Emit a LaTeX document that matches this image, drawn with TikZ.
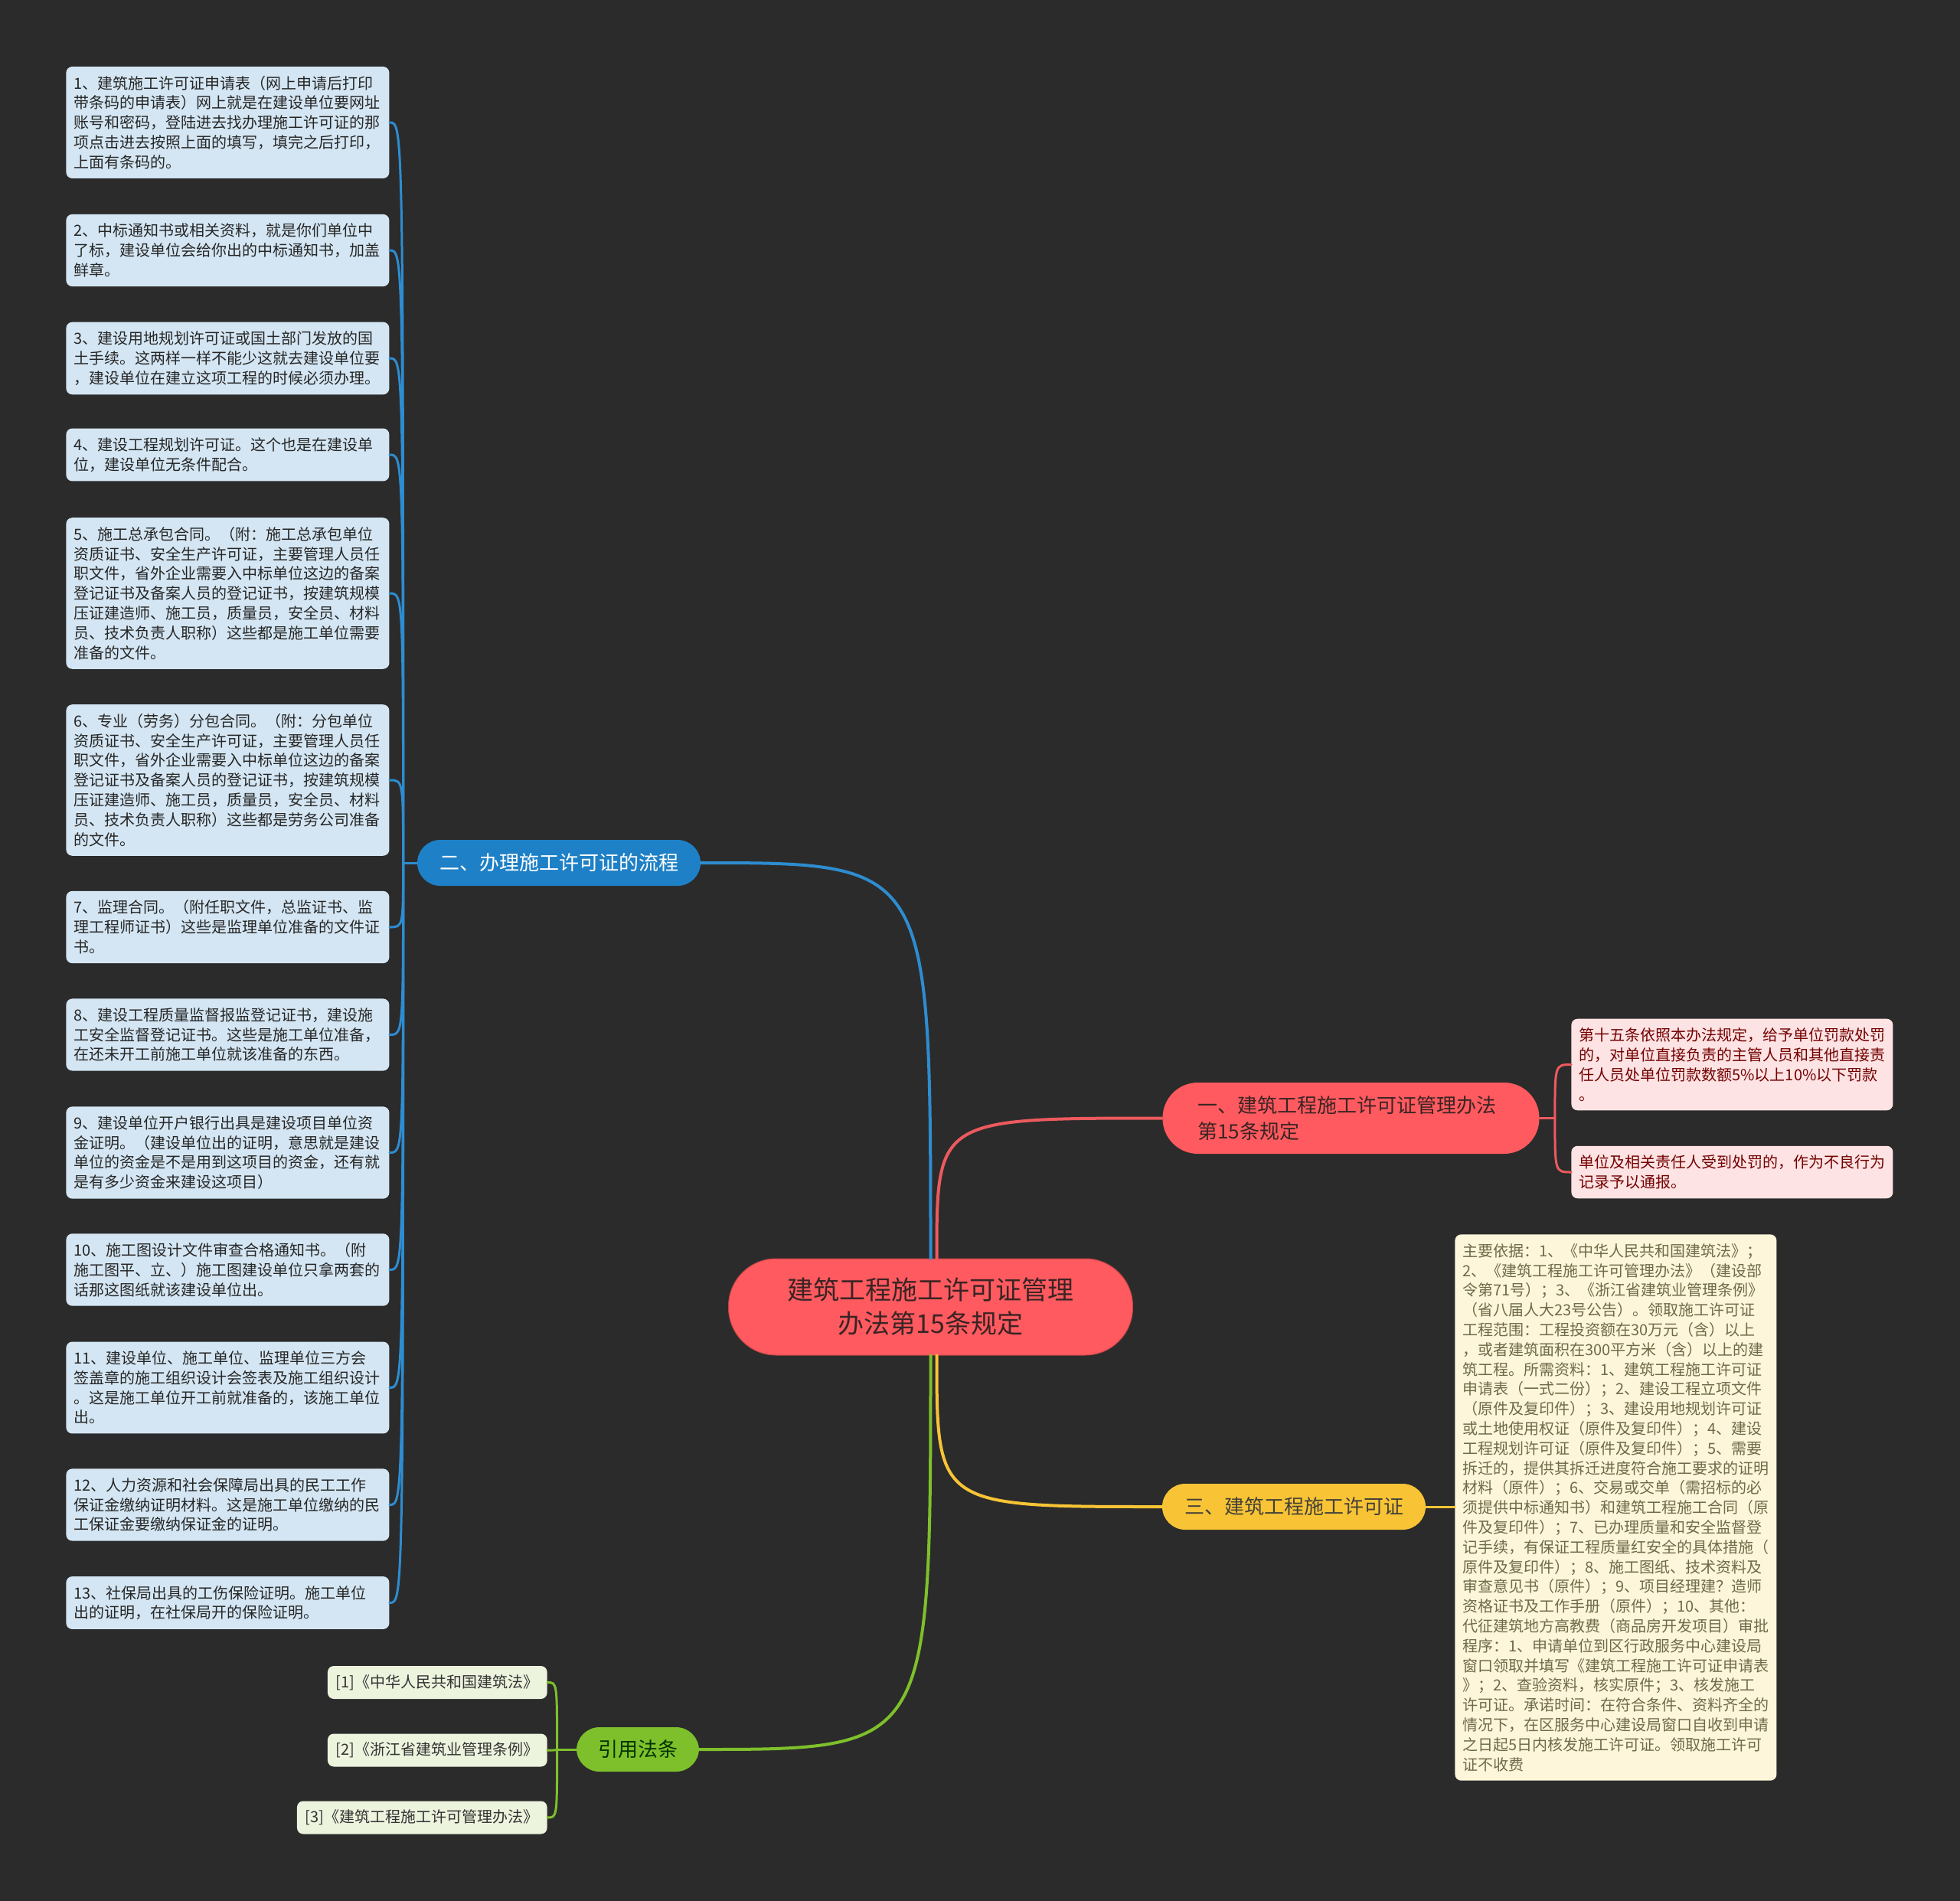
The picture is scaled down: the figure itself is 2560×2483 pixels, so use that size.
\documentclass[tikz,border=0pt]{standalone}
\usepackage{fontspec}
\setmainfont{Noto Sans CJK SC}
\usepackage{xcolor}
\definecolor{mapbg}{HTML}{2B2B2B}
\definecolor{mapred}{HTML}{FF5A5F}
\definecolor{mapredtxt}{HTML}{3A2424}
\definecolor{mapblue}{HTML}{1E80C6}
\definecolor{mapyellow}{HTML}{F8C436}
\definecolor{mapgreen}{HTML}{7EC02B}
\definecolor{twigblue}{HTML}{2E8CD0}
\definecolor{twigred}{HTML}{EC5A5E}
\definecolor{leafblue}{HTML}{D4E6F3}
\definecolor{leafpink}{HTML}{FDE3E3}
\definecolor{leafcream}{HTML}{FDF6DA}
\definecolor{leafgreen}{HTML}{EDF4DE}
\usepackage{tikz}
\usetikzlibrary{calc}

\begin{document}
\begin{tikzpicture}[
  x=0.5pt, y=-0.5pt,
  root/.style={rectangle, rounded corners=31pt, fill=mapred, draw=mapred!75!black, line width=0.5pt,
               minimum width=264pt, minimum height=63pt, inner sep=0pt, align=center,
               font=\fontsize{17}{22}\selectfont, text=mapredtxt},
  topic/.style={rectangle, rounded corners=15pt, minimum height=30pt, inner sep=0pt,
                font=\fontsize{13}{17}\selectfont},
  leaf/.style={rectangle, rounded corners=4pt, text width=201pt, align=left,
               inner xsep=5pt, inner ysep=6pt, font=\fontsize{10}{12.9}\selectfont},
  cite/.style={rectangle, rounded corners=4pt, fill=leafgreen, text=black!80,
               inner xsep=5.5pt, minimum height=21.5pt, font=\fontsize{10}{12.9}\selectfont},
  link/.style={line width=2pt, line cap=round},
  twig/.style={line width=1.5pt, line cap=round},
]
\fill[mapbg] (0,0) rectangle (2560,2483);
\useasboundingbox (0,0) rectangle (2560,2483);

% ---------- centre and the four branches
\node[root] (c) at (1215.5,1707) {建筑工程施工许可证管理\\办法第15条规定};
\node[topic, fill=mapblue, text=white, minimum width=185pt] (b2) at (730,1127) {二、办理施工许可证的流程};
\node[topic, fill=mapred, text=mapredtxt, rounded corners=23pt, minimum height=46.5pt,
      text width=200pt, inner xsep=23pt, align=left] (b1) at (1764.5,1460.5)
  {一、建筑工程施工许可证管理办法\\第15条规定};
\node[topic, fill=mapyellow, text=black!85!yellow, minimum width=172pt] (b3) at (1690,1968) {三、建筑工程施工许可证};
\node[topic, fill=mapgreen, text=black!80!green, minimum width=80pt, minimum height=29pt] (b4) at (833,2285) {引用法条};

\coordinate (up1) at ([xshift=4pt]c.north);
\coordinate (dn3) at ([xshift=4pt]c.south);
\draw[link, draw=twigblue] (c.north) .. controls (c.north |- b2.east) .. (b2.east);
\draw[link, draw=twigred] (up1) .. controls (up1 |- b1.west) .. (b1.west);
\draw[link, draw=mapyellow] (dn3) .. controls (dn3 |- b3.west) .. (b3.west);
\draw[link, draw=mapgreen] (c.south) .. controls (c.south |- b4.east) .. (b4.east);

% ---------- the thirteen steps, left of the blue branch
\coordinate (s0) at ([xshift=-9pt]b2.west);
\draw[twig, draw=twigblue] (b2.west) -- (s0);
\foreach \k/\y/\t in {
  1/160/{1、建筑施工许可证申请表（网上申请后打印\\带条码的申请表）网上就是在建设单位要网址\\账号和密码，登陆进去找办理施工许可证的那\\项点击进去按照上面的填写，填完之后打印，\\上面有条码的。},
  2/327/{2、中标通知书或相关资料，就是你们单位中\\了标，建设单位会给你出的中标通知书，加盖\\鲜章。},
  3/468/{3、建设用地规划许可证或国土部门发放的国\\土手续。这两样一样不能少这就去建设单位要\\，建设单位在建立这项工程的时候必须办理。},
  4/594/{4、建设工程规划许可证。这个也是在建设单\\位，建设单位无条件配合。},
  5/775/{5、施工总承包合同。（附：施工总承包单位\\资质证书、安全生产许可证，主要管理人员任\\职文件，省外企业需要入中标单位这边的备案\\登记证书及备案人员的登记证书，按建筑规模\\压证建造师、施工员，质量员，安全员、材料\\员、技术负责人职称）这些都是施工单位需要\\准备的文件。},
  6/1019/{6、专业（劳务）分包合同。（附：分包单位\\资质证书、安全生产许可证，主要管理人员任\\职文件，省外企业需要入中标单位这边的备案\\登记证书及备案人员的登记证书，按建筑规模\\压证建造师、施工员，质量员，安全员、材料\\员、技术负责人职称）这些都是劳务公司准备\\的文件。},
  7/1211/{7、监理合同。（附任职文件，总监证书、监\\理工程师证书）这些是监理单位准备的文件证\\书。},
  8/1351.5/{8、建设工程质量监督报监登记证书，建设施\\工安全监督登记证书。这些是施工单位准备，\\在还未开工前施工单位就该准备的东西。},
  9/1505.5/{9、建设单位开户银行出具是建设项目单位资\\金证明。（建设单位出的证明，意思就是建设\\单位的资金是不是用到这项目的资金，还有就\\是有多少资金来建设这项目）},
  10/1658.5/{10、施工图设计文件审查合格通知书。（附\\施工图平、立、）施工图建设单位只拿两套的\\话那这图纸就该建设单位出。},
  11/1812.5/{11、建设单位、施工单位、监理单位三方会\\签盖章的施工组织设计会签表及施工组织设计\\。这是施工单位开工前就准备的，该施工单位\\出。},
  12/1965.5/{12、人力资源和社会保障局出具的民工工作\\保证金缴纳证明材料。这是施工单位缴纳的民\\工保证金要缴纳保证金的证明。},
  13/2093.5/{13、社保局出具的工伤保险证明。施工单位\\出的证明，在社保局开的保险证明。}} {
  \node[leaf, fill=leafblue, text=black!85, anchor=west] (s\k) at (86,\y) {\t};
  \draw[twig, draw=twigblue] (s0) .. controls (s0 |- s\k.east) .. (s\k.east);
}

% ---------- article 15, right of the red branch
\coordinate (r0) at ([xshift=10pt]b1.east);
\draw[twig, draw=twigred] (b1.east) -- (r0);
\node[leaf, fill=leafpink, text=red!45!black, text width=200pt, anchor=west] (ra) at (2052,1390.5)
  {第十五条依照本办法规定，给予单位罚款处罚\\的，对单位直接负责的主管人员和其他直接责\\任人员处单位罚款数额5\%以上10\%以下罚款\\。};
\node[leaf, fill=leafpink, text=red!45!black, text width=200pt, anchor=west] (rb) at (2052,1531)
  {单位及相关责任人受到处罚的，作为不良行为\\记录予以通报。};
\draw[twig, draw=twigred] (r0) .. controls (r0 |- ra.west) .. (ra.west);
\draw[twig, draw=twigred] (r0) .. controls (r0 |- rb.west) .. (rb.west);

% ---------- the licence itself, right of the yellow branch
\node[leaf, fill=leafcream, text=yellow!35!black, text width=200pt, anchor=west] (yb) at (1900,1969)
  {主要依据：1、《中华人民共和国建筑法》；\\
   2、《建筑工程施工许可管理办法》（建设部\\
   令第71号）；3、《浙江省建筑业管理条例》\\
   （省八届人大23号公告）。领取施工许可证\\
   工程范围：工程投资额在30万元（含）以上\\
   ，或者建筑面积在300平方米（含）以上的建\\
   筑工程。所需资料：1、建筑工程施工许可证\\
   申请表（一式二份）；2、建设工程立项文件\\
   （原件及复印件）；3、建设用地规划许可证\\
   或土地使用权证（原件及复印件）；4、建设\\
   工程规划许可证（原件及复印件）；5、需要\\
   拆迁的，提供其拆迁进度符合施工要求的证明\\
   材料（原件）；6、交易或交单（需招标的必\\
   须提供中标通知书）和建筑工程施工合同（原\\
   件及复印件）；7、已办理质量和安全监督登\\
   记手续，有保证工程质量红安全的具体措施（\\
   原件及复印件）；8、施工图纸、技术资料及\\
   审查意见书（原件）；9、项目经理建？造师\\
   资格证书及工作手册（原件）；10、其他：\\
   代征建筑地方高教费（商品房开发项目）审批\\
   程序：1、申请单位到区行政服务中心建设局\\
   窗口领取并填写《建筑工程施工许可证申请表\\
   》；2、查验资料，核实原件；3、核发施工\\
   许可证。承诺时间：在符合条件、资料齐全的\\
   情况下，在区服务中心建设局窗口自收到申请\\
   之日起5日内核发施工许可证。领取施工许可\\
   证不收费};
\draw[twig, draw=mapyellow] (b3.east) -- (yb.west |- b3.east);

% ---------- cited laws, left of the green branch
\coordinate (g0) at ([xshift=-12.5pt]b4.west);
\draw[twig, draw=mapgreen] (b4.west) -- (g0);
\foreach \k/\y/\t in {1/2197.5/{[1]《中华人民共和国建筑法》},
                      2/2286/{[2]《浙江省建筑业管理条例》},
                      3/2374/{[3]《建筑工程施工许可管理办法》}} {
  \node[cite, anchor=east] (g\k) at (715,\y) {\t};
  \draw[twig, draw=mapgreen] (g0) .. controls (g0 |- g\k.east) .. (g\k.east);
}
\end{tikzpicture}
\end{document}
